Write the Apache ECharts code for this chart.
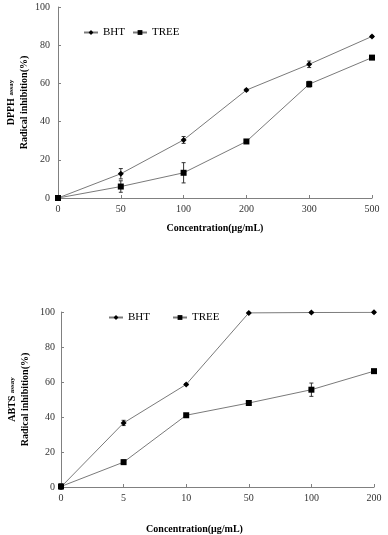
<!DOCTYPE html>
<html><head><meta charset="utf-8">
<script src="https://cdn.jsdelivr.net/npm/echarts@6/dist/echarts.min.js"></script>
<style>html,body{margin:0;padding:0;background:#fff}#c{width:388px;height:535px}</style>
</head><body><div id="c"></div>
<script>
// DPPH assay
const dpphCategories = ['0', '50', '100', '200', '300', '500'];
const dpphBHT = [0, 12.7, 30.4, 56.5, 70, 84.6];
const dpphBHTErr = [0, 2.7, 1.8, 0.5, 1.7, 0.5];
const dpphTREE = [0, 6, 13.2, 29.6, 59.6, 73.5];
const dpphTREEErr = [1, 3, 5.3, 1, 1.5, 0.8];
// ABTS assay
const abtsCategories = ['0', '5', '10', '50', '100', '200'];
const abtsBHT = [0, 36.6, 58.6, 99.5, 99.7, 99.8];
const abtsBHTErr = [0, 1.5, 0.5, 0.3, 0.3, 0.3];
const abtsTREE = [0.3, 14.2, 41, 48, 55.6, 66.2];
const abtsTREEErr = [1.5, 1.2, 1, 1, 3.8, 0.5];
const yTicks = [0, 20, 40, 60, 80, 100];

const serif = '"Liberation Serif", "Times New Roman", serif';
const chart = echarts.init(document.getElementById('c'), null, {renderer: 'canvas'});

function errSeries(name, xi, yi, vals, errs) {
  return {
    type: 'custom', name: name + '_err', xAxisIndex: xi, yAxisIndex: yi, z: 5,
    data: vals.map((v, i) => [i, v, errs[i]]),
    renderItem: function (params, api) {
      const x = api.value(0), y = api.value(1), e = api.value(2);
      const hi = api.coord([x, y + e]), lo = api.coord([x, y - e]);
      const cw = 2;
      const st = {stroke: '#333', lineWidth: 1};
      return {type: 'group', children: [
        {type: 'line', shape: {x1: hi[0], y1: hi[1], x2: lo[0], y2: lo[1]}, style: st},
        {type: 'line', shape: {x1: hi[0] - cw, y1: hi[1], x2: hi[0] + cw, y2: hi[1]}, style: st},
        {type: 'line', shape: {x1: lo[0] - cw, y1: lo[1], x2: lo[0] + cw, y2: lo[1]}, style: st}
      ]};
    }
  };
}
function lineSeries(name, xi, yi, vals, symbol, size) {
  return {
    type: 'line', name: name, xAxisIndex: xi, yAxisIndex: yi, data: vals,
    symbol: symbol, symbolSize: size, showSymbol: true, z: 6,
    lineStyle: {color: '#7a7a7a', width: 1},
    itemStyle: {color: '#000'}
  };
}
const axisLineStyle = {lineStyle: {color: '#808080', width: 1}};
const labelStyle = {fontFamily: serif, fontSize: 10, color: '#333'};
function xAxis(gi, cats, name, pad) {
  return {
    type: 'category', gridIndex: gi, data: cats, boundaryGap: false,
    axisLine: axisLineStyle, axisTick: {inside: true, length: 3, lineStyle: {color: '#808080'}},
    axisLabel: Object.assign({margin: 6}, labelStyle),
    name: name, nameLocation: 'middle', nameGap: gi === 0 ? 25 : 37, nameMoveOverlap: false,
    nameTextStyle: {fontFamily: serif, fontSize: 10, fontWeight: 'bold', color: '#000', padding: pad}
  };
}
function yAxis(gi, assay, margin) {
  return {
    type: 'value', gridIndex: gi, min: yTicks[0], max: yTicks[yTicks.length - 1], interval: 20,
    splitLine: {show: false},
    axisLine: Object.assign({show: true}, axisLineStyle),
    axisTick: {show: true, inside: true, length: 3, lineStyle: {color: '#808080'}},
    axisLabel: Object.assign({margin: margin}, labelStyle),
    name: '{b|' + assay + ' }{s|assay}\n{b|Radical inhibition(%)}',
    nameLocation: 'middle', nameRotate: 90, nameGap: gi === 0 ? 27 : 29, nameMoveOverlap: false,
    nameTextStyle: {
      align: 'center', lineHeight: 13,
      rich: {
        b: {fontFamily: serif, fontSize: 10, fontWeight: 'bold', color: '#000', lineHeight: 13},
        s: {fontFamily: serif, fontSize: 7, fontWeight: 'bold', color: '#000', lineHeight: 13}
      }
    }
  };
}
const legendText = {fontFamily: serif, fontSize: 11, color: '#000'};
chart.setOption({
  animation: false,
  grid: [
    {left: 58, right: 16, top: 7, bottom: 337, containLabel: false, outerBoundsMode: 'none'},
    {left: 61, right: 14, top: 312, bottom: 48, containLabel: false, outerBoundsMode: 'none'}
  ],
  legend: [
    {data: ['BHT', 'TREE'], left: 83, top: 27, padding: 0, itemWidth: 14, itemHeight: 6, itemGap: 7, textStyle: legendText},
    {data: ['BHT', 'TREE'], left: 108, top: 312, padding: 0, itemWidth: 14, itemHeight: 6, itemGap: 22, textStyle: legendText}
  ],
  xAxis: [xAxis(0, dpphCategories, 'Concentration(μg/mL)', [0, 0, 0, 0]),
          xAxis(1, abtsCategories, 'Concentration(μg/mL)', [0, 46, 0, 0])],
  yAxis: [yAxis(0, 'DPPH', 8), yAxis(1, 'ABTS', 6)],
  series: [
    errSeries('BHT', 0, 0, dpphBHT, dpphBHTErr),
    errSeries('TREE', 0, 0, dpphTREE, dpphTREEErr),
    lineSeries('BHT', 0, 0, dpphBHT, 'diamond', 6),
    lineSeries('TREE', 0, 0, dpphTREE, 'rect', 6),
    errSeries('BHT', 1, 1, abtsBHT, abtsBHTErr),
    errSeries('TREE', 1, 1, abtsTREE, abtsTREEErr),
    lineSeries('BHT', 1, 1, abtsBHT, 'diamond', 6),
    lineSeries('TREE', 1, 1, abtsTREE, 'rect', 6)
  ]
});
</script></body></html>
